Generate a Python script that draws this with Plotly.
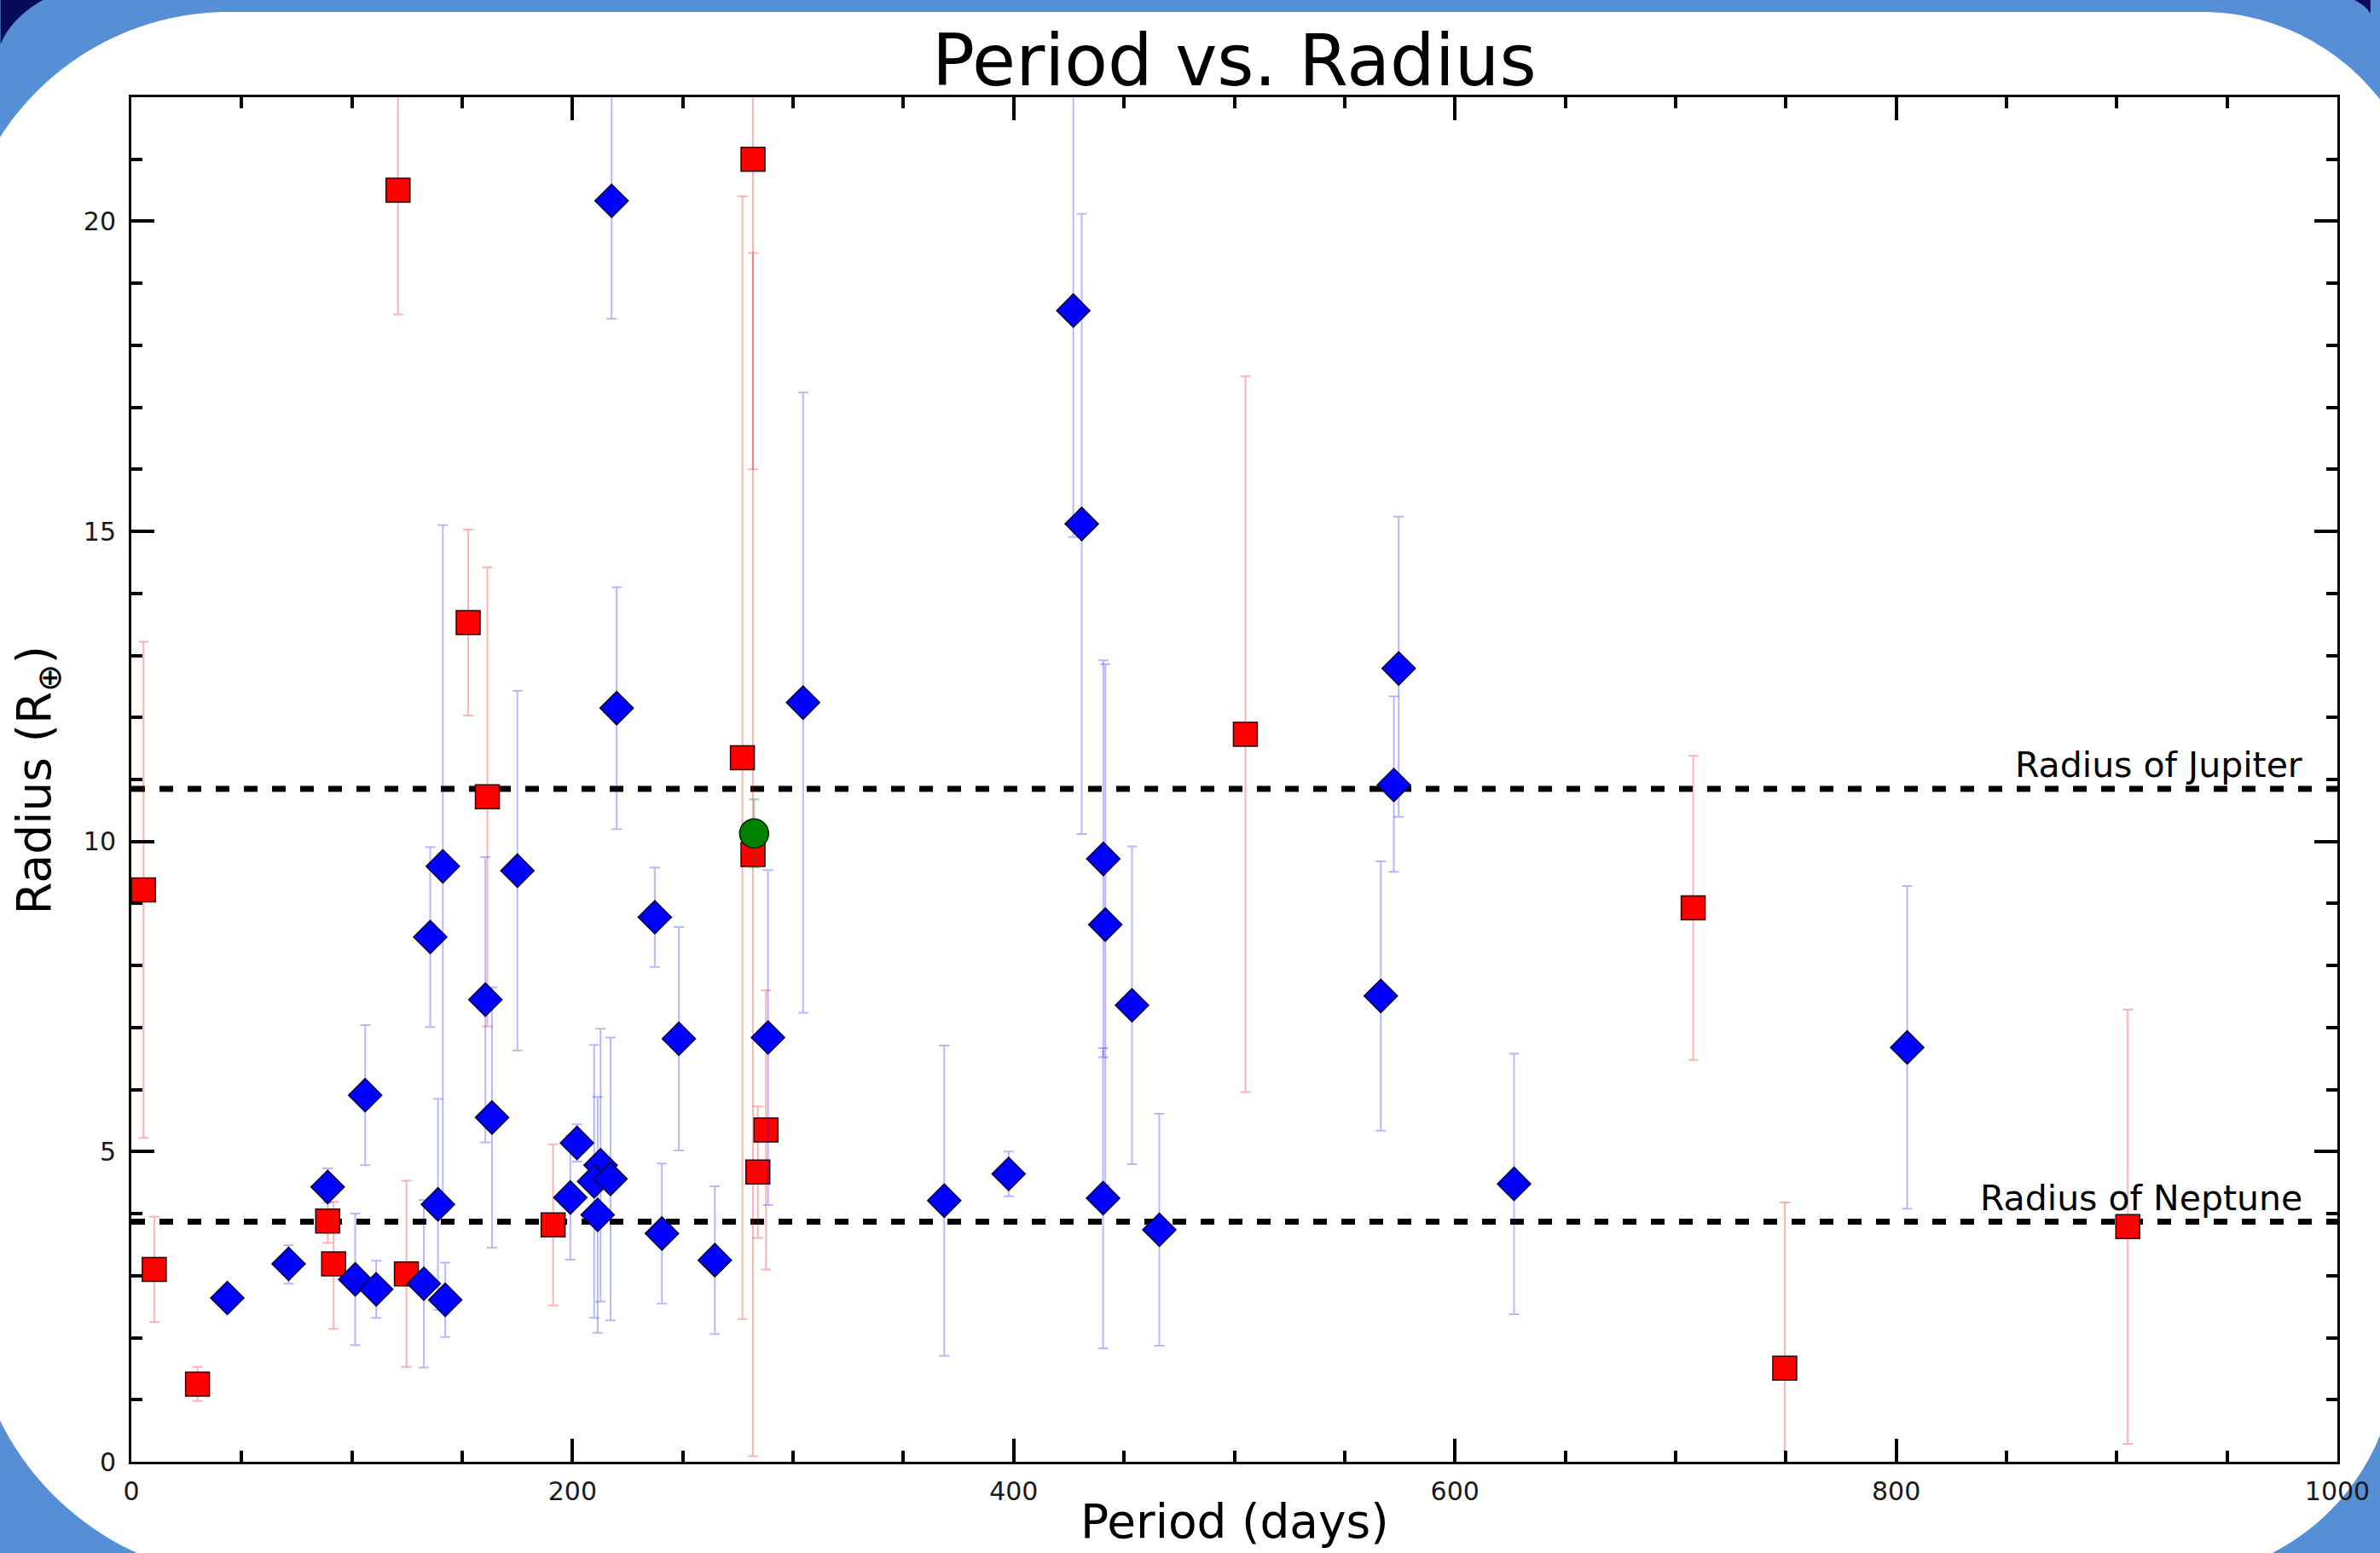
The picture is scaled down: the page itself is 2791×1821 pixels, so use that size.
import plotly.graph_objects as go

# ---------------- data ----------------
red_period = [5.5, 10.4, 30.0, 89.0, 91.7, 120.9, 124.7, 152.7, 161.4, 191.2,
              277.0, 281.8, 281.8, 284.0, 287.7, 505.0, 708.0, 749.5, 905.0]
red_radius = [9.22, 3.10, 1.25, 3.88, 3.19, 20.5, 3.03, 13.53, 10.72, 3.82,
              11.35, 21.0, 9.79, 4.67, 5.35, 11.73, 8.93, 1.51, 3.79]
red_err_plus = [4.0, 0.85, 0.28, 0.35, 1.0, 2.0, 1.5, 1.5, 3.7, 1.3,
                9.05, 5.0, 9.7, 1.06, 2.25, 5.77, 2.45, 2.67, 3.5]
red_err_minus = [4.0, 0.85, 0.27, 0.35, 1.05, 2.0, 1.5, 1.5, 3.7, 1.3,
                 9.05, 5.0, 9.7, 1.06, 2.25, 5.77, 2.45, 2.67, 3.5]

blue_period = [43.5, 71.3, 89.0, 101.5, 106.0, 111.0, 132.6, 135.5, 139.0, 141.2,
               142.3, 160.5, 163.5, 175.0, 199.0, 202.0, 212.7, 209.8, 211.4, 217.2,
               217.7, 220.0, 237.3, 240.5, 248.2, 264.5, 288.6, 304.5, 368.5, 397.7,
               427.0, 430.8, 440.6, 441.5, 440.5, 453.6, 466.0, 566.4, 572.3, 574.5,
               626.8, 805.0]
blue_radius = [2.64, 3.19, 4.43, 2.94, 5.91, 2.78, 2.87, 8.46, 4.15, 9.60,
               2.61, 7.45, 5.55, 9.53, 4.26, 5.14, 4.78, 4.52, 3.98, 4.56,
               20.33, 12.15, 8.78, 3.68, 6.82, 3.25, 6.84, 12.24, 4.21, 4.64,
               18.56, 15.12, 9.72, 8.66, 4.25, 7.36, 3.74, 7.51, 10.91, 12.79,
               4.48, 6.68]
blue_err_plus = [0.1, 0.3, 0.3, 1.06, 1.13, 0.46, 1.35, 1.45, 1.7, 5.5,
                 0.6, 2.3, 2.1, 2.9, 1.0, 0.3, 2.2, 2.2, 1.9, 2.28,
                 1.9, 1.95, 0.8, 1.13, 1.8, 1.19, 2.7, 5.0, 2.5, 0.36,
                 3.65, 5.0, 3.2, 4.2, 2.42, 2.56, 1.87, 2.17, 1.43, 2.45,
                 2.1, 2.6]
blue_err_minus = [0.1, 0.32, 0.25, 1.06, 1.13, 0.46, 1.35, 1.45, 1.7, 5.5,
                  0.6, 2.3, 2.1, 2.9, 1.0, 0.3, 2.2, 2.2, 1.9, 2.28,
                  1.9, 1.95, 0.8, 1.13, 1.8, 1.19, 2.7, 5.0, 2.5, 0.36,
                  3.65, 5.0, 3.2, 4.2, 2.42, 2.56, 1.87, 2.17, 1.4, 2.39,
                  2.1, 2.6]

green_period = [282.3]
green_radius = [10.13]
green_err = [0.55]

JUPITER_RADIUS = 10.85
NEPTUNE_RADIUS = 3.87
ref_labels = ["Radius of Jupiter", "Radius of Neptune"]

x_range = [0, 1000]
y_range = [0, 22]
x_ticks = [0, 200, 400, 600, 800, 1000]
y_ticks = [0, 5, 10, 15, 20]

# ---------------- layout geometry (pixels) ----------------
W, H = 2791, 1821
ML, MR, MT, MB = 154, 39, 114, 107
PW = W - ML - MR
PH = H - MT - MB
FONT = "DejaVu Sans"


def fx(px):
    return (px - ML) / PW


def fy(py):
    return (H - MB - py) / PH


def path(cmds):
    out = []
    for c in cmds:
        if isinstance(c, str):
            out.append(c)
        else:
            out.append(f"{fx(c[0]):.5f},{fy(c[1]):.5f}")
    return " ".join(out)


white_panel = path([
    "M", (-51.4, 334),
    "C", (-51.4, 157.3), (91.9, 14), (268.6, 14),
    "L", (2591.5, 14),
    "C", (2739.5, 14), (2859.5, 134), (2859.5, 282),
    "L", (2822, 1582),
    "C", (2822, 1730), (2702, 1850), (2554, 1850),
    "L", (296.7, 1850),
    "C", (113.3, 1850), (-35.3, 1701.4), (-35.3, 1518),
    "Z",
])
navy_tl = path(["M", (0, 0), "L", (50, 0), "C", (28, 12), (9, 30), (0, 52), "Z"])
navy_tr = path(["M", (2791, 0), "L", (2772, 0), "C", (2780, 4), (2787, 9), (2791, 16), "Z"])

fig = go.Figure()

# reference lines
for val in (JUPITER_RADIUS, NEPTUNE_RADIUS):
    fig.add_trace(go.Scatter(
        x=x_range, y=[val, val], mode="lines",
        line=dict(color="black", width=7, dash="16px,17px"),
        hoverinfo="skip", showlegend=False))

fig.add_trace(go.Scatter(
    x=red_period, y=red_radius, mode="markers",
    marker=dict(symbol="square", size=28, color="#ff0000",
                line=dict(color="#330000", width=1.5)),
    error_y=dict(type="data", symmetric=False, array=red_err_plus,
                 arrayminus=red_err_minus, color="rgba(255,0,0,0.3)",
                 thickness=2, width=6),
    showlegend=False))

fig.add_trace(go.Scatter(
    x=blue_period, y=blue_radius, mode="markers",
    marker=dict(symbol="diamond", size=30, color="#0000ff",
                line=dict(color="#000033", width=1.5)),
    error_y=dict(type="data", symmetric=False, array=blue_err_plus,
                 arrayminus=blue_err_minus, color="rgba(0,0,255,0.28)",
                 thickness=2, width=6),
    showlegend=False))

fig.add_trace(go.Scatter(
    x=green_period, y=green_radius, mode="markers",
    marker=dict(symbol="circle", size=34, color="#008000",
                line=dict(color="#002200", width=1.5)),
    error_y=dict(type="data", array=green_err, color="rgba(0,128,0,0.35)",
                 thickness=2, width=6),
    showlegend=False))

axis_common = dict(
    showline=True, linecolor="black", linewidth=3, mirror="ticks",
    ticks="inside", ticklen=27, tickwidth=4, tickcolor="black",
    showgrid=False, zeroline=False,
    tickfont=dict(family=FONT, size=30, color="#1a1a1a"),
)

fig.update_xaxes(range=x_range, tickvals=x_ticks,
                 minor=dict(dtick=50, ticks="inside", ticklen=13, tickwidth=4,
                            tickcolor="black", showgrid=False),
                 ticklabelstandoff=6, **axis_common)
fig.update_yaxes(range=y_range, tickvals=y_ticks,
                 minor=dict(dtick=1, ticks="inside", ticklen=13, tickwidth=4,
                            tickcolor="black", showgrid=False),
                 ticklabelstandoff=9, **axis_common)

annotations = [
    dict(text="Period vs. Radius", x=0.5, y=fy(71), xref="paper", yref="paper",
         xanchor="center", yanchor="middle", showarrow=False,
         font=dict(family=FONT, size=83, color="black")),
    dict(text="Period (days)", x=0.5, y=fy(1784), xref="paper", yref="paper",
         xanchor="center", yanchor="middle", showarrow=False,
         font=dict(family=FONT, size=55, color="black")),
    dict(text="Radius (R<sub>⊕</sub>)", x=fx(44), y=fy(915), xref="paper", yref="paper",
         xanchor="center", yanchor="middle", textangle=-90, showarrow=False,
         font=dict(family=FONT, size=55, color="black")),
]
for label, val in zip(ref_labels, (JUPITER_RADIUS, NEPTUNE_RADIUS)):
    annotations.append(dict(
        text=label, x=985, y=val, xref="x", yref="y",
        xanchor="right", yanchor="bottom", showarrow=False, yshift=2,
        font=dict(family=FONT, size=41, color="black")))

fig.update_layout(
    width=W, height=H,
    margin=dict(l=ML, r=MR, t=MT, b=MB, pad=0),
    paper_bgcolor="#578fd6",
    plot_bgcolor="rgba(0,0,0,0)",
    showlegend=False,
    annotations=annotations,
    shapes=[
        dict(type="path", path=white_panel, xref="paper", yref="paper",
             fillcolor="white", line=dict(width=0), layer="below"),
        dict(type="path", path=navy_tl, xref="paper", yref="paper",
             fillcolor="#0a0a5a", line=dict(width=0), layer="below"),
        dict(type="path", path=navy_tr, xref="paper", yref="paper",
             fillcolor="#0a0a5a", line=dict(width=0), layer="below"),
    ],
)

fig.write_html("out.html")
